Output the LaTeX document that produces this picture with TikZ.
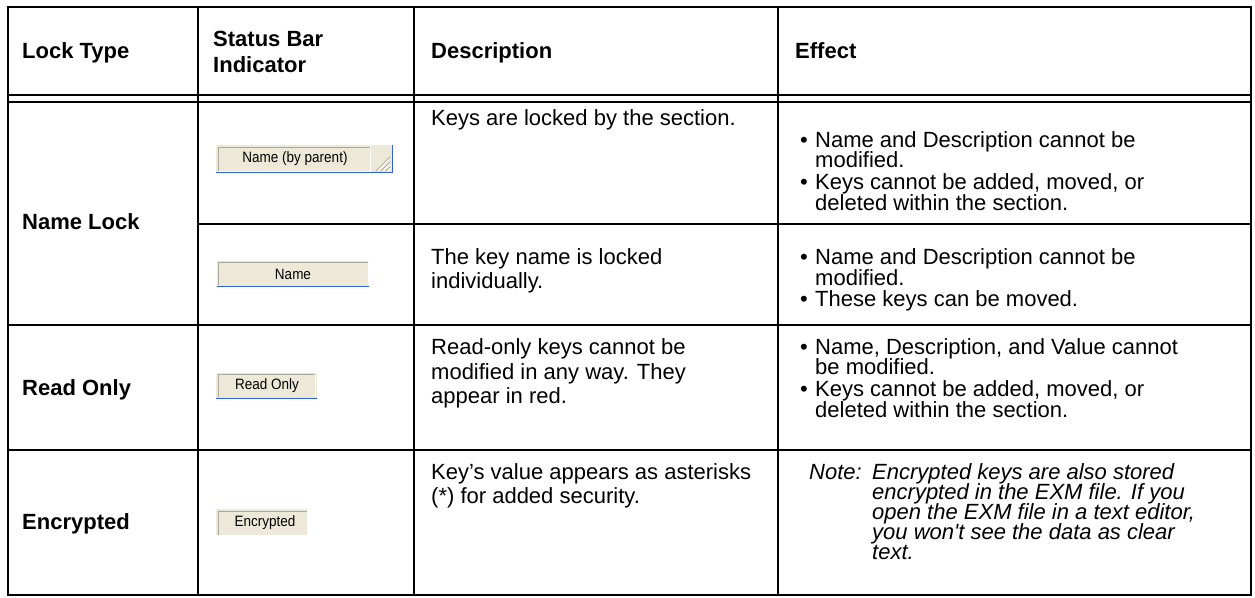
\documentclass[tikz,border=0pt]{standalone}
\usepackage{fontspec}
\setmainfont{Liberation Sans}
\usepackage{graphicx}
\definecolor{sbfill}{HTML}{ECE9D8}
\definecolor{sbgrey}{HTML}{ACA899}
\definecolor{sbblue}{HTML}{2E62D6}
\begin{document}
\begin{tikzpicture}[x=1pt,y=-1pt,
  tline/.style={line width=1.8pt, black},
  hdr/.style={anchor=base west, inner sep=0pt, font=\bfseries\fontsize{22}{24}\selectfont},
  body/.style={anchor=base west, inner sep=0pt, font=\fontsize{22}{24}\selectfont},
  notetext/.style={anchor=base west, inner sep=0pt, font=\itshape\fontsize{22}{24}\selectfont},
  sbbox/.style={fill=sbfill, draw=none},
  sbtext/.style={inner sep=0pt, font=\fontsize{15}{15}\selectfont},
  sbline/.style={draw=sbblue, line width=1.6pt}
]
\useasboundingbox[fill=white] (0,0) rectangle (1255,597);

% ---- table rules ----
\draw[tline] (8,7) rectangle (1251,595);
\draw[tline] (198,7) -- (198,595);
\draw[tline] (414,7) -- (414,595);
\draw[tline] (778,7) -- (778,595);
\draw[tline] (8,95) -- (1251,95);
\draw[tline] (8,102) -- (1251,102);
\draw[tline] (198,224) -- (1251,224);
\draw[tline] (8,325) -- (1251,325);
\draw[tline] (8,450) -- (1251,450);

% ---- header ----
\node[hdr] (h1) at (22,58) {Lock Type};
\node[hdr] (h2a) at (213,46) {Status Bar};
\node[hdr] (h2b) at (213,72) {Indicator};
\node[hdr] (h3) at (431,58) {Description};
\node[hdr] (h4) at (795,58) {Effect};

% ---- lock types ----
\node[hdr] (l1) at (22,229) {Name Lock};
\node[hdr] (l2) at (22,395) {Read Only};
\node[hdr] (l3) at (22,529) {Encrypted};

% ---- status bar indicators ----
% Name (by parent)
\fill[sbbox] (216,145) rectangle (393,173);
\draw[draw=sbgrey, line width=0.8pt] (218,171) -- (218,147) -- (370,147);
\draw[draw=white, line width=0.8pt] (370,147) -- (370,171) -- (218,171);
\draw[sbgrey, line width=0.9pt] (390,157) -- (376,171) (390,162) -- (381,171) (390,167) -- (386,171);
\draw[white, line width=0.9pt] (390,158.5) -- (377.5,171) (390,163.5) -- (382.5,171) (390,168.5) -- (387.5,171);
\draw[sbline] (216,172.5) -- (393,172.5);
\draw[sbline] (392.5,145) -- (392.5,173);
\node[sbtext] (s1) at (295,159) {\scalebox{0.9}[1]{Name (by parent)}};
% Name
\fill[sbbox] (217,261) rectangle (369,287);
\draw[draw=sbgrey, line width=0.8pt] (218,285) -- (218,262) -- (368,262);
\draw[draw=white, line width=0.8pt] (368,262) -- (368,285);
\draw[sbline] (217,286.5) -- (369,286.5);
\node[sbtext] (s2) at (293,274) {\scalebox{0.9}[1]{Name}};
% Read Only
\fill[sbbox] (216,373) rectangle (317,399);
\draw[draw=sbgrey, line width=0.8pt] (218,397) -- (218,374) -- (315,374);
\draw[draw=white, line width=0.8pt] (315,374) -- (315,397);
\draw[sbline] (216,398.5) -- (317,398.5);
\node[sbtext] (s3) at (267,386) {\scalebox{0.9}[1]{Read Only}};
% Encrypted
\fill[sbbox] (216,509) rectangle (307,535);
\draw[draw=sbgrey, line width=0.8pt] (218,535) -- (218,511) -- (307,511);
\node[sbtext] (s4) at (265,523) {\scalebox{0.9}[1]{Encrypted}};

% ---- descriptions ----
\node[body] (d1) at (431,125) {Keys are locked by the section.};
\node[body] (d2a) at (431,264) {The key name is locked};
\node[body] (d2b) at (431,288) {individually.};
\node[body] (d3a) at (431,354) {Read-only keys cannot be};
\node[body] (d3b) at (431,379) {modified in any way. They};
\node[body] (d3c) at (431,403) {appear in red.};
\node[body] (d4a) at (431,479) {Key’s value appears as asterisks};
\node[body] (d4b) at (431,503) {(*) for added security.};

% ---- effects ----
\node[body] (b1a) at (800,147) {•};
\node[body] (e1a) at (815,147) {Name and Description cannot be};
\node[body] (e1b) at (815,167) {modified.};
\node[body] (b1c) at (800,189) {•};
\node[body] (e1c) at (815,189) {Keys cannot be added, moved, or};
\node[body] (e1d) at (815,210) {deleted within the section.};

\node[body] (b2a) at (800,264) {•};
\node[body] (e2a) at (815,264) {Name and Description cannot be};
\node[body] (e2b) at (815,285) {modified.};
\node[body] (b2c) at (800,306) {•};
\node[body] (e2c) at (815,306) {These keys can be moved.};

\node[body] (b3a) at (800,354) {•};
\node[body] (e3a) at (815,354) {Name, Description, and Value cannot};
\node[body] (e3b) at (815,374) {be modified.};
\node[body] (b3c) at (800,396) {•};
\node[body] (e3c) at (815,396) {Keys cannot be added, moved, or};
\node[body] (e3d) at (815,417) {deleted within the section.};

\node[notetext] (n0) at (809,479) {Note:};
\node[notetext] (n1) at (872,479) {Encrypted keys are also stored};
\node[notetext] (n2) at (872,499) {encrypted in the EXM file. If you};
\node[notetext] (n3) at (872,519) {open the EXM file in a text editor,};
\node[notetext] (n4) at (872,539) {you won\textquotesingle t see the data as clear};
\node[notetext] (n5) at (872,559) {text.};
\end{tikzpicture}
\end{document}
